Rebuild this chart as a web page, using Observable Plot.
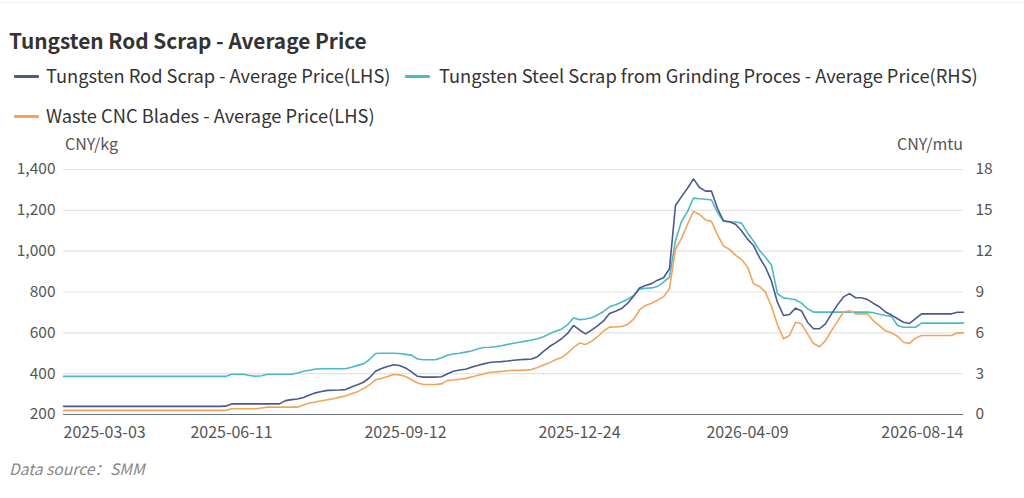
<!DOCTYPE html>
<html>
<head>
<meta charset="utf-8">
<script src="https://cdn.jsdelivr.net/npm/d3@7"></script>
<script src="https://cdn.jsdelivr.net/npm/@observablehq/plot@0.6"></script>
<style>
  html, body { margin: 0; padding: 0; background: #fff; }
  body { width: 1024px; height: 498px; position: relative; overflow: hidden; font-family: "Noto Sans CJK SC", "Noto Sans", sans-serif; }
  .abs { position: absolute; white-space: nowrap; }
  #topline { position: absolute; left: 0; top: 2px; width: 1024px; height: 1px; background: #f0f0f0; }
  #title { left: 9px; top: 26px; font-size: 20.8px; font-weight: bold; color: #333; line-height: 28px; }
  .leg { font-size: 18.3px; color: #333; line-height: 24px; }
  .sw { position: absolute; height: 3px; border-radius: 1px; }
  .unit { font-size: 16px; color: #555; line-height: 20px; }
  #src { left: 9px; top: 458px; font-size: 15.6px; font-style: italic; color: #888; line-height: 20px; }
  #chart { position: absolute; left: 0; top: 130px; }
</style>
</head>
<body>
<div id="topline"></div>
<div id="title" class="abs">Tungsten Rod Scrap - Average Price</div>
<div id="legend"></div>
<div class="abs unit" style="left:65px; top:133px;">CNY/kg</div>
<div class="abs unit" style="right:61px; top:133px;">CNY/mtu</div>
<div id="chart"></div>
<div id="src" class="abs">Data source：SMM</div>
<script>
// Series names and colours
const seriesNames = [
  "Tungsten Rod Scrap - Average Price(LHS)",
  "Tungsten Steel Scrap from Grinding Proces - Average Price(RHS)",
  "Waste CNC Blades - Average Price(LHS)"
];
const seriesColors = ["#4a5a8e", "#4cb9c9", "#f2a45a"];

// X-axis tick labels (category axis) and the point index they sit at
const tickLabels = ["2025-03-03", "2025-06-11", "2025-09-12", "2025-12-24", "2026-04-09", "2026-08-14"];
const tickIndex = [0, 28, 57, 86, 114, 150];

// Left axis (CNY/kg) and right axis (CNY/mtu) tick values
const leftTicks = [200, 400, 600, 800, 1000, 1200, 1400];
const rightTicks = [0, 3, 6, 9, 12, 15, 18];

// Tungsten Rod Scrap - Average Price (LHS, CNY/kg)
const rodScrap = [
  240,240,240,240,240,240,240,240,240,240,
  240,240,240,240,240,240,240,240,240,240,
  240,240,240,240,240,240,240,241,252,252,
  252,252,252,252,252,252,252,268,273,276,
  283,296,306,313,318,319,320,322,335,346,
  358,380,412,425,435,444,440,428,409,387,
  383,383,383,385,400,412,418,422,432,440,
  448,455,457,459,462,466,468,470,472,483,
  509,533,551,571,597,636,614,595,613,634,
  658,695,706,719,744,779,820,832,841,858,
  870,914,1224,1267,1308,1354,1312,1294,1294,1209,
  1149,1144,1132,1100,1059,1028,969,921,853,749,
  685,690,721,707,652,620,620,644,693,737,
  776,792,772,772,763,744,727,702,687,669,
  652,646,670,693,693,693,693,693,693,701,
  701
];

// Tungsten Steel Scrap from Grinding Proces - Average Price (RHS, CNY/mtu)
const steelScrap = [
  2.8,2.8,2.8,2.8,2.8,2.8,2.8,2.8,2.8,2.8,
  2.8,2.8,2.8,2.8,2.8,2.8,2.8,2.8,2.8,2.8,
  2.8,2.8,2.8,2.8,2.8,2.8,2.8,2.8,2.96,2.96,
  2.96,2.87,2.81,2.85,2.96,2.96,2.96,2.96,2.96,3.05,
  3.18,3.25,3.34,3.36,3.36,3.36,3.36,3.36,3.47,3.61,
  3.72,4.04,4.48,4.5,4.5,4.5,4.48,4.42,4.36,4.08,
  4.02,4.02,4.02,4.17,4.35,4.44,4.5,4.58,4.67,4.81,
  4.92,4.94,4.98,5.05,5.15,5.23,5.31,5.39,5.47,5.56,
  5.71,5.93,6.11,6.27,6.6,7.09,6.97,7.01,7.11,7.31,
  7.57,7.91,8.07,8.25,8.47,8.72,9.21,9.28,9.3,9.4,
  9.72,10.09,12.78,14.18,14.91,15.9,15.85,15.81,15.76,14.84,
  14.2,14.14,14.14,14.06,13.34,12.75,12.06,11.56,10.97,8.87,
  8.57,8.5,8.43,8.18,7.77,7.52,7.52,7.52,7.52,7.52,
  7.52,7.52,7.52,7.52,7.52,7.47,7.36,7.27,7.21,6.54,
  6.41,6.41,6.41,6.71,6.71,6.71,6.71,6.71,6.71,6.71,
  6.71
];

// Waste CNC Blades - Average Price (LHS, CNY/kg)
const cncBlades = [
  220,220,220,220,220,220,220,220,220,220,
  220,220,220,220,220,220,220,220,220,220,
  220,220,220,220,220,220,220,220,228,228,
  228,228,228,232,236,236,236,236,236,236,
  246,256,261,267,272,277,285,291,302,312,
  327,345,370,376,386,396,394,386,370,354,
  347,347,347,350,367,369,373,377,384,391,
  398,406,409,411,414,416,416,418,420,430,
  442,454,468,479,501,528,550,543,558,581,
  609,628,629,631,641,666,712,734,745,760,
  776,817,1011,1063,1131,1195,1180,1153,1146,1080,
  1025,1009,981,959,922,840,827,799,729,639,
  571,587,652,644,595,548,532,562,611,656,
  702,708,693,693,693,658,635,610,600,583,
  554,548,574,587,587,587,587,587,587,600,
  600
];

// Legend (HTML)
const legendItems = [
  {name: seriesNames[0], color: seriesColors[0], left: 14, textLeft: 46, top: 76},
  {name: seriesNames[1], color: seriesColors[1], left: 405, textLeft: 439, top: 76},
  {name: seriesNames[2], color: seriesColors[2], left: 14, textLeft: 46, top: 116}
];
const legend = document.getElementById("legend");
for (const it of legendItems) {
  const sw = document.createElement("div");
  sw.className = "sw";
  sw.style.left = it.left + "px";
  sw.style.top = (it.top - 1) + "px";
  sw.style.width = "25px";
  sw.style.background = it.color;
  legend.appendChild(sw);
  const t = document.createElement("div");
  t.className = "abs leg";
  t.style.left = it.textLeft + "px";
  t.style.top = (it.top - 13) + "px";
  t.textContent = it.name;
  legend.appendChild(t);
}

// Right axis values are drawn against the left scale
const lMin = leftTicks[0], lMax = leftTicks[leftTicks.length - 1];
const rMin = rightTicks[0], rMax = rightTicks[rightTicks.length - 1];
const toLeft = v => lMin + (v - rMin) * (lMax - lMin) / (rMax - rMin);
const toRight = v => rMin + (v - lMin) * (rMax - rMin) / (lMax - lMin);

const N = rodScrap.length;
const lab = i => tickLabels[tickIndex.indexOf(i)];
const yFont = {fontSize: 15.5, fill: "#555"};
const xFont = {fontSize: 16, fill: "#555"};

const chart = Plot.plot({
  width: 1024,
  height: 320,
  marginLeft: 63,
  marginRight: 61,
  marginTop: 39,
  marginBottom: 36,
  style: {fontFamily: '"Noto Sans CJK SC", "Noto Sans", sans-serif', fontSize: "15px", color: "#555", background: "transparent"},
  x: {domain: [0, N - 1]},
  y: {domain: [lMin, lMax]},
  marks: [
    Plot.gridY(leftTicks.slice(1), {stroke: "#e3e3e3", strokeOpacity: 1, strokeWidth: 1.2}),
    Plot.ruleY([lMin], {stroke: "#6e7079", strokeWidth: 1.2}),
    Plot.axisY(leftTicks, {anchor: "left", tickSize: 0, tickPadding: 8, tickFormat: d3.format(","), label: null, ...yFont}),
    Plot.axisY(rightTicks.map(toLeft), {anchor: "right", tickSize: 0, tickPadding: 12, tickFormat: d => String(Math.round(toRight(d))), label: null, ...yFont, textAnchor: "start"}),
    Plot.axisX([tickIndex[0]], {tickSize: 0, tickPadding: 12, tickFormat: lab, label: null, textAnchor: "start", ...xFont}),
    Plot.axisX(tickIndex.slice(1, -1), {tickSize: 0, tickPadding: 12, tickFormat: lab, label: null, ...xFont}),
    Plot.axisX([tickIndex[tickIndex.length - 1]], {tickSize: 0, tickPadding: 12, tickFormat: lab, label: null, textAnchor: "end", ...xFont}),
    Plot.lineY(steelScrap, {x: (d, i) => i, y: d => toLeft(d), stroke: seriesColors[1], strokeWidth: 1.6}),
    Plot.lineY(cncBlades, {x: (d, i) => i, y: d => d, stroke: seriesColors[2], strokeWidth: 1.6}),
    Plot.lineY(rodScrap, {x: (d, i) => i, y: d => d, stroke: seriesColors[0], strokeWidth: 1.6})
  ]
});
document.getElementById("chart").appendChild(chart);
</script>
</body>
</html>
